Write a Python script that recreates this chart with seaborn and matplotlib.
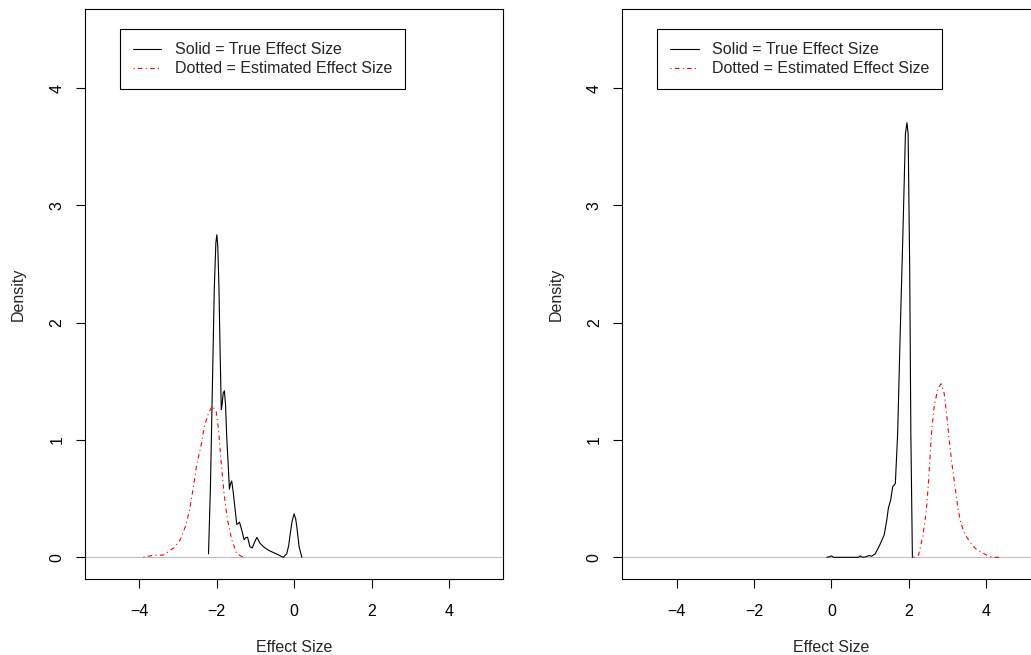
import matplotlib
matplotlib.use("Agg")
import matplotlib.pyplot as plt
import seaborn as sns
import pandas as pd

# values
left_true_x = [-2.21, -2.16, -2.12, -2.06, -2.02, -1.995, -1.97, -1.94, -1.91, -1.88,
               -1.86, -1.83, -1.80, -1.77, -1.74, -1.70, -1.67, -1.64, -1.61, -1.57,
               -1.52, -1.48, -1.44, -1.41, -1.35, -1.29, -1.24, -1.20, -1.14, -1.08,
               -1.02, -0.96, -0.88, -0.79, -0.66, -0.53, -0.40, -0.28, -0.19, -0.14,
               -0.10, -0.05, 0.0, 0.04, 0.07, 0.13, 0.20]
left_true_y = [0.03, 0.60, 1.28, 2.30, 2.68, 2.75, 2.65, 2.30, 1.75, 1.26,
               1.30, 1.40, 1.42, 1.30, 1.03, 0.78, 0.58, 0.63, 0.65, 0.55,
               0.40, 0.28, 0.29, 0.30, 0.23, 0.15, 0.17, 0.17, 0.09, 0.08,
               0.13, 0.17, 0.12, 0.09, 0.06, 0.04, 0.02, 0.0, 0.03, 0.10,
               0.20, 0.31, 0.37, 0.33, 0.26, 0.09, 0.0]
left_est_x = [-3.89, -3.67, -3.37, -3.11, -2.94, -2.81, -2.70, -2.60, -2.51, -2.41,
              -2.32, -2.21, -2.11, -2.01, -1.95, -1.88, -1.81, -1.72, -1.61, -1.48, -1.31]
left_est_y = [0.0, 0.015, 0.02, 0.08, 0.15, 0.26, 0.40, 0.60, 0.80, 0.94,
              1.11, 1.23, 1.29, 1.24, 1.085, 0.80, 0.545, 0.32, 0.15, 0.03, 0.0]

right_true_x = [-0.12, -0.05, 0.0, 0.06, 0.13, 0.70, 0.74, 0.80, 0.90, 0.96,
                1.04, 1.13, 1.24, 1.36, 1.43, 1.47, 1.53, 1.58, 1.65, 1.71,
                1.775, 1.845, 1.91, 1.95, 1.98, 2.02, 2.05, 2.09]
right_true_y = [0.0, 0.005, 0.012, 0.0, 0.0, 0.0, 0.012, 0.0, 0.005, 0.015,
                0.01, 0.03, 0.10, 0.19, 0.32, 0.42, 0.49, 0.60, 0.63, 1.06,
                1.91, 2.76, 3.61, 3.705, 3.61, 2.48, 1.06, 0.0]
right_est_x = [2.12, 2.25, 2.36, 2.45, 2.51, 2.55, 2.59, 2.65, 2.74, 2.83,
               2.91, 2.98, 3.05, 3.11, 3.18, 3.26, 3.34, 3.455, 3.58, 3.71,
               3.89, 4.06, 4.19, 4.40]
right_est_y = [0.0, 0.02, 0.18, 0.40, 0.66, 0.89, 1.085, 1.28, 1.43, 1.48,
               1.40, 1.20, 0.97, 0.80, 0.63, 0.43, 0.29, 0.19, 0.13, 0.077,
               0.04, 0.01, 0.0, 0.0]

legend_labels = ["Solid = True Effect Size", "Dotted = Estimated Effect Size"]
x_ticks = [-4, -2, 0, 2, 4]
y_ticks = [0, 1, 2, 3, 4]

sns.set_style("ticks")
plt.rcParams["font.family"] = ["Liberation Sans", "DejaVu Sans"]
plt.rcParams["axes.unicode_minus"] = True

FS = 11.5  # ~16px at 100 dpi
fig = plt.figure(figsize=(10.31, 6.55), dpi=100)

panels = [
    (0.0824, left_true_x, left_true_y, left_est_x, left_est_y),
    (0.6036, right_true_x, right_true_y, right_est_x, right_est_y),
]

for left, tx, ty, ex, ey in panels:
    ax = fig.add_axes([left, 0.116, 0.4057, 0.8698])
    ax.axhline(0, color="#BEBEBE", lw=0.8, zorder=1)
    true_df = pd.DataFrame({"x": tx, "y": ty})
    est_df = pd.DataFrame({"x": ex, "y": ey})
    sns.lineplot(data=true_df, x="x", y="y", ax=ax, sort=False, color="black",
                 lw=0.8, label=legend_labels[0], legend=False, zorder=3)
    sns.lineplot(data=est_df, x="x", y="y", ax=ax, sort=False, color="#FF0000",
                 lw=0.8, linestyle=(0, (1, 3, 4, 3)), label=legend_labels[1],
                 legend=False, zorder=3)

    ax.set_xlim(-5.4, 5.4)
    ax.set_ylim(-0.185, 4.672)
    ax.set_xticks(x_ticks)
    ax.set_yticks(y_ticks)
    ax.set_xticklabels([f"{t}".replace("-", "\u2212") for t in x_ticks])
    ax.set_yticklabels([str(t) for t in y_ticks], rotation=90, va="center")
    for s in ax.spines.values():
        s.set_visible(True)
        s.set_linewidth(0.8)
        s.set_color("black")
    ax.tick_params(axis="both", direction="out", length=6.8, width=0.8,
                   colors="black", labelsize=FS)
    ax.tick_params(axis="x", pad=11.0)
    ax.tick_params(axis="y", pad=8.0)

    ax.set_xlabel("Effect Size", fontsize=FS)
    ax.set_ylabel("Density", fontsize=FS)
    ax.xaxis.set_label_coords(0.5, -0.121)
    ax.xaxis.label.set_va("center")
    ax.yaxis.set_label_coords(-0.159, 0.5)
    ax.yaxis.label.set_va("center")

    handles = [l for l in ax.get_lines() if l.get_label() in legend_labels]
    leg = ax.legend(handles=handles, labels=legend_labels, loc="upper left",
                    bbox_to_anchor=(-4.5, 4.5), bbox_transform=ax.transData,
                    borderaxespad=0, fontsize=FS, frameon=True, fancybox=False,
                    framealpha=1, edgecolor="black", borderpad=0.8,
                    handlelength=1.8, handletextpad=0.85, labelspacing=0.26)
    leg.get_frame().set_linewidth(0.8)

fig.savefig("out.png", dpi=100)
